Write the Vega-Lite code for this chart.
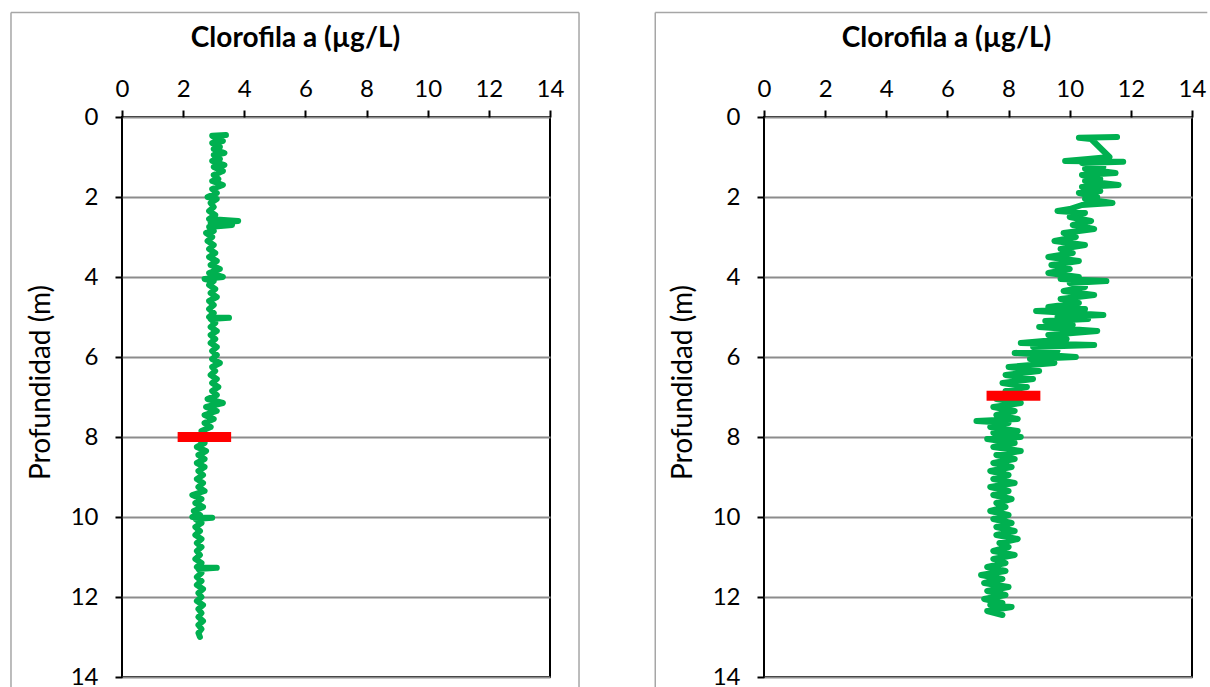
{
  "$schema": "https://vega.github.io/schema/vega-lite/v6.json",
  "background": "white",
  "padding": {"left": 9, "top": 10, "right": 0, "bottom": 0},
  "spacing": 214,
  "bounds": "flush",
  "config": {
    "font": "Lato",
    "view": {"stroke": "black", "strokeWidth": 2},
    "axis": {
      "labelFont": "Lato", "labelFontSize": 24, "labelColor": "black",
      "titleFont": "Lato", "titleColor": "black",
      "tickColor": "black", "tickWidth": 2, "tickSize": 7,
      "domain": false,
      "gridColor": "#8c8c8c", "gridWidth": 2, "gridOpacity": 1
    }
  },
  "datasets": {
    "one": [{}],
    "left": [
      {"d":0.45,"v":3.4},{"d":0.47,"v":2.95},{"d":0.55,"v":3.1},{"d":0.6,"v":3.3},{"d":0.65,"v":2.95},{"d":0.75,"v":3.2},{"d":0.8,"v":3.0},{"d":0.9,"v":3.35},{"d":0.95,"v":3.0},{"d":1.05,"v":3.2},{"d":1.1,"v":2.95},{"d":1.2,"v":3.35},{"d":1.25,"v":3.0},{"d":1.35,"v":3.3},{"d":1.45,"v":3.0},{"d":1.55,"v":3.15},{"d":1.6,"v":2.95},{"d":1.7,"v":3.3},{"d":1.8,"v":2.95},{"d":1.9,"v":3.1},{"d":2.0,"v":2.8},{"d":2.05,"v":3.1},{"d":2.15,"v":2.9},{"d":2.25,"v":3.0},{"d":2.35,"v":2.85},{"d":2.45,"v":3.05},{"d":2.55,"v":2.85},{"d":2.6,"v":3.8},{"d":2.65,"v":2.9},{"d":2.7,"v":3.6},{"d":2.75,"v":2.85},{"d":2.85,"v":3.0},{"d":2.9,"v":2.75},{"d":3.0,"v":2.95},{"d":3.1,"v":2.8},{"d":3.2,"v":3.0},{"d":3.3,"v":2.85},{"d":3.4,"v":3.05},{"d":3.5,"v":2.85},{"d":3.6,"v":3.1},{"d":3.7,"v":2.9},{"d":3.8,"v":3.2},{"d":3.9,"v":2.85},{"d":4.0,"v":3.3},{"d":4.05,"v":2.7},{"d":4.1,"v":3.0},{"d":4.2,"v":2.85},{"d":4.3,"v":3.05},{"d":4.4,"v":2.9},{"d":4.5,"v":3.1},{"d":4.6,"v":2.85},{"d":4.7,"v":3.0},{"d":4.8,"v":2.85},{"d":4.9,"v":3.0},{"d":5.0,"v":2.85},{"d":5.02,"v":3.5},{"d":5.05,"v":2.9},{"d":5.15,"v":3.05},{"d":5.25,"v":2.9},{"d":5.35,"v":3.1},{"d":5.45,"v":2.9},{"d":5.55,"v":3.05},{"d":5.65,"v":2.9},{"d":5.75,"v":3.1},{"d":5.85,"v":2.95},{"d":5.95,"v":3.1},{"d":6.05,"v":2.95},{"d":6.15,"v":3.2},{"d":6.25,"v":2.95},{"d":6.35,"v":3.05},{"d":6.45,"v":2.9},{"d":6.55,"v":3.1},{"d":6.65,"v":2.95},{"d":6.75,"v":3.15},{"d":6.85,"v":2.95},{"d":6.95,"v":3.1},{"d":7.05,"v":2.8},{"d":7.15,"v":3.3},{"d":7.25,"v":2.75},{"d":7.35,"v":3.1},{"d":7.45,"v":2.7},{"d":7.55,"v":3.0},{"d":7.65,"v":2.7},{"d":7.75,"v":2.9},{"d":7.85,"v":2.6},{"d":7.95,"v":2.8},{"d":8.05,"v":2.5},{"d":8.15,"v":2.7},{"d":8.25,"v":2.45},{"d":8.35,"v":2.75},{"d":8.45,"v":2.5},{"d":8.55,"v":2.7},{"d":8.65,"v":2.45},{"d":8.75,"v":2.7},{"d":8.85,"v":2.5},{"d":8.95,"v":2.65},{"d":9.05,"v":2.45},{"d":9.15,"v":2.65},{"d":9.25,"v":2.5},{"d":9.35,"v":2.7},{"d":9.45,"v":2.3},{"d":9.55,"v":2.6},{"d":9.65,"v":2.4},{"d":9.75,"v":2.65},{"d":9.85,"v":2.35},{"d":9.95,"v":2.55},{"d":10.0,"v":2.3},{"d":10.02,"v":2.95},{"d":10.05,"v":2.4},{"d":10.15,"v":2.6},{"d":10.25,"v":2.4},{"d":10.35,"v":2.55},{"d":10.45,"v":2.4},{"d":10.55,"v":2.6},{"d":10.65,"v":2.45},{"d":10.75,"v":2.6},{"d":10.85,"v":2.45},{"d":10.95,"v":2.55},{"d":11.05,"v":2.4},{"d":11.15,"v":2.6},{"d":11.25,"v":2.45},{"d":11.27,"v":3.1},{"d":11.3,"v":2.5},{"d":11.4,"v":2.6},{"d":11.5,"v":2.45},{"d":11.6,"v":2.6},{"d":11.7,"v":2.45},{"d":11.8,"v":2.65},{"d":11.9,"v":2.5},{"d":12.0,"v":2.6},{"d":12.1,"v":2.45},{"d":12.2,"v":2.65},{"d":12.3,"v":2.5},{"d":12.4,"v":2.6},{"d":12.5,"v":2.5},{"d":12.6,"v":2.65},{"d":12.7,"v":2.5},{"d":12.8,"v":2.6},{"d":12.9,"v":2.5},{"d":13.0,"v":2.55}
    ],
    "right": [
      {"d":0.5,"v":11.55},{"d":0.52,"v":10.3},{"d":0.55,"v":10.7},{"d":1.0,"v":11.3},{"d":1.05,"v":10.6},{"d":1.1,"v":9.85},{"d":1.12,"v":11.75},{"d":1.15,"v":10.4},{"d":1.25,"v":11.1},{"d":1.3,"v":10.5},{"d":1.4,"v":11.5},{"d":1.45,"v":10.4},{"d":1.55,"v":11.0},{"d":1.6,"v":10.5},{"d":1.7,"v":11.6},{"d":1.75,"v":10.4},{"d":1.85,"v":11.0},{"d":1.9,"v":10.3},{"d":2.0,"v":10.9},{"d":2.05,"v":10.5},{"d":2.15,"v":11.4},{"d":2.2,"v":10.4},{"d":2.3,"v":10.0},{"d":2.35,"v":9.6},{"d":2.4,"v":10.5},{"d":2.5,"v":10.0},{"d":2.6,"v":10.7},{"d":2.7,"v":10.1},{"d":2.8,"v":10.8},{"d":2.9,"v":9.8},{"d":3.0,"v":10.2},{"d":3.1,"v":9.5},{"d":3.2,"v":10.5},{"d":3.3,"v":9.7},{"d":3.4,"v":10.1},{"d":3.5,"v":9.3},{"d":3.6,"v":10.3},{"d":3.7,"v":9.4},{"d":3.8,"v":10.0},{"d":3.9,"v":9.3},{"d":4.0,"v":10.3},{"d":4.05,"v":9.7},{"d":4.1,"v":11.2},{"d":4.15,"v":10.0},{"d":4.25,"v":10.5},{"d":4.35,"v":9.8},{"d":4.45,"v":10.8},{"d":4.55,"v":9.7},{"d":4.65,"v":10.3},{"d":4.75,"v":9.3},{"d":4.8,"v":10.5},{"d":4.85,"v":8.9},{"d":4.95,"v":11.1},{"d":5.0,"v":9.6},{"d":5.05,"v":10.6},{"d":5.1,"v":9.2},{"d":5.2,"v":10.1},{"d":5.25,"v":9.0},{"d":5.35,"v":10.9},{"d":5.45,"v":9.3},{"d":5.55,"v":9.9},{"d":5.65,"v":8.4},{"d":5.7,"v":10.8},{"d":5.75,"v":8.8},{"d":5.85,"v":9.6},{"d":5.9,"v":8.2},{"d":6.0,"v":10.2},{"d":6.05,"v":8.7},{"d":6.15,"v":9.5},{"d":6.25,"v":8.0},{"d":6.35,"v":9.0},{"d":6.45,"v":7.9},{"d":6.55,"v":8.8},{"d":6.65,"v":7.8},{"d":6.75,"v":8.6},{"d":6.85,"v":7.9},{"d":6.95,"v":8.5},{"d":7.05,"v":7.6},{"d":7.15,"v":8.4},{"d":7.25,"v":7.5},{"d":7.35,"v":8.2},{"d":7.45,"v":7.6},{"d":7.55,"v":8.3},{"d":7.6,"v":6.95},{"d":7.65,"v":8.0},{"d":7.75,"v":7.4},{"d":7.85,"v":8.3},{"d":7.9,"v":7.5},{"d":8.0,"v":8.4},{"d":8.05,"v":7.3},{"d":8.15,"v":8.2},{"d":8.25,"v":7.5},{"d":8.35,"v":8.4},{"d":8.45,"v":7.6},{"d":8.55,"v":8.2},{"d":8.65,"v":7.5},{"d":8.75,"v":8.1},{"d":8.85,"v":7.4},{"d":8.95,"v":8.0},{"d":9.05,"v":7.5},{"d":9.15,"v":8.2},{"d":9.25,"v":7.4},{"d":9.35,"v":8.0},{"d":9.45,"v":7.5},{"d":9.55,"v":8.1},{"d":9.65,"v":7.6},{"d":9.75,"v":7.9},{"d":9.85,"v":7.4},{"d":9.95,"v":8.0},{"d":10.05,"v":7.5},{"d":10.15,"v":8.1},{"d":10.25,"v":7.6},{"d":10.35,"v":8.2},{"d":10.45,"v":7.6},{"d":10.55,"v":8.3},{"d":10.65,"v":7.7},{"d":10.75,"v":8.0},{"d":10.85,"v":7.5},{"d":10.95,"v":8.2},{"d":11.05,"v":7.5},{"d":11.15,"v":7.9},{"d":11.25,"v":7.3},{"d":11.35,"v":7.9},{"d":11.45,"v":7.1},{"d":11.55,"v":7.8},{"d":11.65,"v":7.2},{"d":11.75,"v":8.0},{"d":11.85,"v":7.3},{"d":11.95,"v":7.9},{"d":12.05,"v":7.2},{"d":12.15,"v":7.8},{"d":12.2,"v":7.4},{"d":12.25,"v":8.1},{"d":12.35,"v":7.3},{"d":12.45,"v":7.8}
    ],
    "leftMark": [{"d": 8.0, "x1": 1.82, "x2": 3.57}],
    "rightMark": [{"d": 6.97, "x1": 7.28, "x2": 9.04}]
  },
  "hconcat": [
    {
      "width": 428, "height": 560,
      "layer": [
        {
          "data": {"name": "one"},
          "mark": {"type": "rule", "color": "#a6a6a6", "strokeWidth": 1.5},
          "encoding": {"x": {"datum": -3.631}, "y": {"datum": -2.61}, "y2": {"datum": 14.25}}
        },
        {
          "data": {"name": "one"},
          "mark": {"type": "rule", "color": "#a6a6a6", "strokeWidth": 1.5},
          "encoding": {"x": {"datum": 14.949}, "y": {"datum": -2.61}, "y2": {"datum": 14.25}}
        },
        {
          "data": {"name": "one"},
          "mark": {"type": "rule", "color": "#a6a6a6", "strokeWidth": 1.5},
          "encoding": {"y": {"datum": -2.61}, "x": {"datum": -3.631}, "x2": {"datum": 14.949}}
        },
        {
          "data": {"name": "left"},
          "mark": {"type": "line", "color": "#00b050", "strokeWidth": 6, "strokeCap": "round", "strokeJoin": "round"},
          "encoding": {
            "x": {"field": "v", "type": "quantitative",
                  "scale": {"domain": [0, 14], "nice": false, "zero": false},
                  "axis": {"orient": "top", "values": [0,2,4,6,8,10,12,14], "grid": false,
                           "title": "Clorofila a (µg/L)", "titleFontSize": 28, "titleFontWeight": "bold",
                           "titleX": 173, "titleY": -71, "titleBaseline": "alphabetic", "titleAlign": "center",
                           "labelPadding": 9, "labelFlush": false}},
            "y": {"field": "d", "type": "quantitative",
                  "scale": {"domain": [0, 14], "reverse": true, "nice": false, "zero": false},
                  "axis": {"orient": "left", "values": [0,2,4,6,8,10,12,14], "grid": true,
                           "title": "Profundidad (m)", "titleFontSize": 28, "titleFontWeight": "normal",
                           "titleX": -73, "titleY": 265, "titleAngle": -90, "titleBaseline": "alphabetic", "titleAlign": "center",
                           "labelPadding": 17}},
            "order": {"field": "d", "type": "quantitative"}
          }
        },
        {
          "data": {"name": "leftMark"},
          "mark": {"type": "rule", "color": "#ff0000", "strokeWidth": 10},
          "encoding": {
            "x": {"field": "x1", "type": "quantitative"},
            "x2": {"field": "x2"},
            "y": {"field": "d", "type": "quantitative"}
          }
        }
      ]
    },
    {
      "width": 428, "height": 560,
      "layer": [
        {
          "data": {"name": "one"},
          "mark": {"type": "rule", "color": "#a6a6a6", "strokeWidth": 1.5},
          "encoding": {"x": {"datum": -3.557}, "y": {"datum": -2.61}, "y2": {"datum": 14.25}}
        },
        {
          "data": {"name": "one"},
          "mark": {"type": "rule", "color": "#a6a6a6", "strokeWidth": 1.5},
          "encoding": {"y": {"datum": -2.61}, "x": {"datum": -3.557}, "x2": {"datum": 14.5}}
        },
        {
          "data": {"name": "right"},
          "mark": {"type": "line", "color": "#00b050", "strokeWidth": 6, "strokeCap": "round", "strokeJoin": "round"},
          "encoding": {
            "x": {"field": "v", "type": "quantitative",
                  "scale": {"domain": [0, 14], "nice": false, "zero": false},
                  "axis": {"orient": "top", "values": [0,2,4,6,8,10,12,14], "grid": false,
                           "title": "Clorofila a (µg/L)", "titleFontSize": 28, "titleFontWeight": "bold",
                           "titleX": 182, "titleY": -71, "titleBaseline": "alphabetic", "titleAlign": "center",
                           "labelPadding": 9, "labelFlush": false}},
            "y": {"field": "d", "type": "quantitative",
                  "scale": {"domain": [0, 14], "reverse": true, "nice": false, "zero": false},
                  "axis": {"orient": "left", "values": [0,2,4,6,8,10,12,14], "grid": true,
                           "title": "Profundidad (m)", "titleFontSize": 28, "titleFontWeight": "normal",
                           "titleX": -73, "titleY": 265, "titleAngle": -90, "titleBaseline": "alphabetic", "titleAlign": "center",
                           "labelPadding": 17}},
            "order": {"field": "d", "type": "quantitative"}
          }
        },
        {
          "data": {"name": "rightMark"},
          "mark": {"type": "rule", "color": "#ff0000", "strokeWidth": 10},
          "encoding": {
            "x": {"field": "x1", "type": "quantitative"},
            "x2": {"field": "x2"},
            "y": {"field": "d", "type": "quantitative"}
          }
        }
      ]
    }
  ]
}
